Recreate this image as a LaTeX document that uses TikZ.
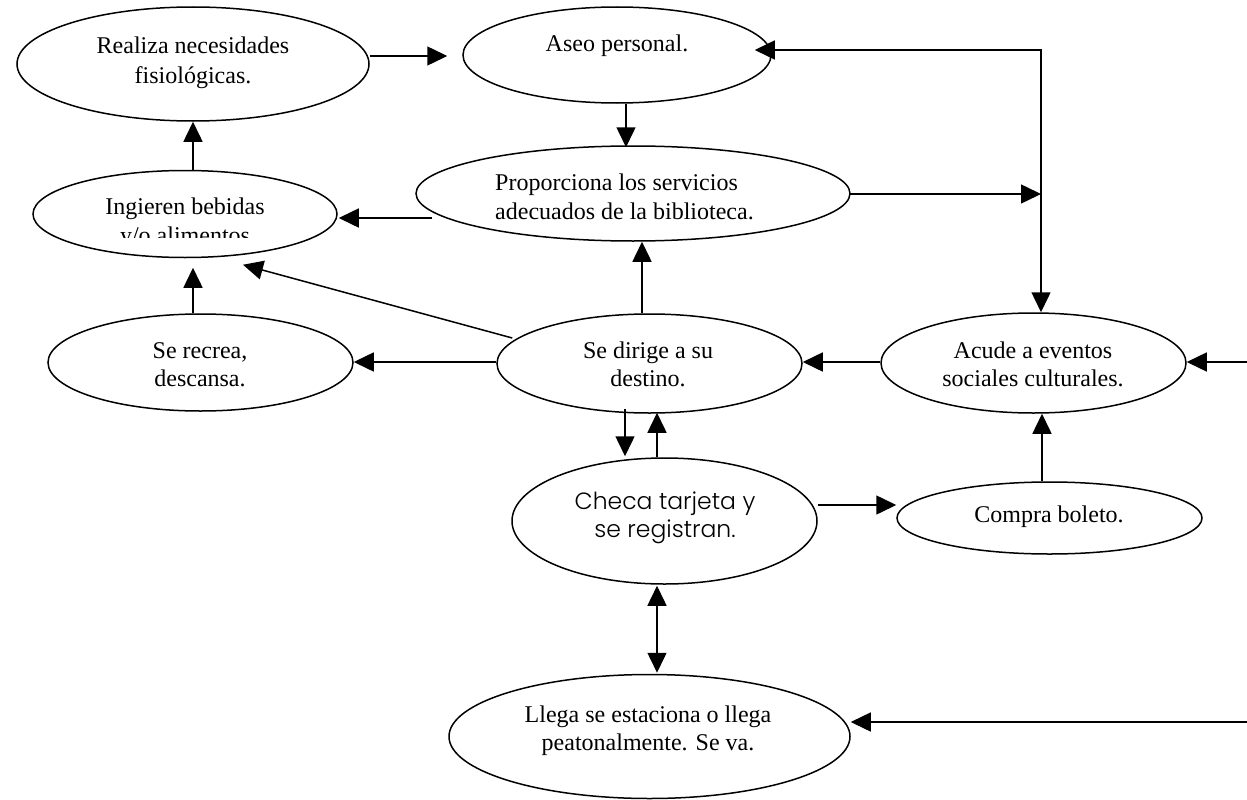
\documentclass[tikz,border=0pt]{standalone}
\usepackage{fontspec}
\setmainfont{Liberation Serif}
\newfontfamily\gothic{Poppins Light}
\usetikzlibrary{arrows.meta,shapes.geometric,calc}
\begin{document}
\begin{tikzpicture}[x=1pt,y=-1pt,
  ell/.style={draw, ellipse, line width=1.5pt, inner sep=0pt},
  txt/.style={anchor=base, inner sep=0pt, font=\fontsize{24}{29}\selectfont},
  ltxt/.style={anchor=base west, inner sep=0pt, font=\fontsize{24}{29}\selectfont},
  gtxt/.style={anchor=base, inner sep=0pt, font=\gothic\fontsize{23.5}{28}\selectfont},
  arr/.style={line width=1.5pt, -{Triangle[length=20pt,width=19pt]}},
  darr/.style={line width=1.5pt, {Triangle[length=20pt,width=19pt]}-{Triangle[length=20pt,width=19pt]}},
  ]
\useasboundingbox (0,0) rectangle (1247,800);

% ellipses
\node[ell, minimum width=352pt, minimum height=114pt] (realiza) at (193,64) {};
\node[ell, minimum width=308pt, minimum height=96pt] (aseo) at (617,55) {};
\node[ell, minimum width=434pt, minimum height=95pt] (prop) at (633,193.5) {};
\node[ell, minimum width=304pt, minimum height=87pt] (ingi) at (185,214) {};
\node[ell, minimum width=305pt, minimum height=97pt] (recrea) at (200.5,362.5) {};
\node[ell, minimum width=305pt, minimum height=99pt] (dirige) at (649.5,363.5) {};
\node[ell, minimum width=305pt, minimum height=100pt] (acude) at (1033.5,363) {};
\node[ell, minimum width=305pt, minimum height=126pt] (checa) at (664.5,521) {};
\node[ell, minimum width=305pt, minimum height=72pt] (compra) at (1049.5,518) {};
\node[ell, minimum width=401pt, minimum height=124pt] (llega) at (649.5,736.5) {};

% texts
\node[txt] at (193,54) {Realiza necesidades};
\node[txt] at (193,84) {fisiológicas.};
\node[txt] at (617,52) {Aseo personal.};
\node[ltxt] at (495,190) {Proporciona los servicios};
\node[ltxt] at (495,219) {adecuados de la biblioteca.};
\node[txt] at (185,214) {Ingieren bebidas};
\begin{scope}
  \clip (40,180) rectangle (330,237);
  \node[txt] at (185,243) {y/o alimentos};
\end{scope}
\node[txt] at (200,358) {Se recrea,};
\node[txt] at (200,386) {descansa.};
\node[txt] at (648,358) {Se dirige a su};
\node[txt] at (648,386) {destino.};
\node[txt] at (1033,358) {Acude a eventos};
\node[txt] at (1033,386) {sociales culturales.};
\node[gtxt] at (665,509) {Checa tarjeta y};
\node[gtxt] at (665,537) {se registran.};
\node[txt] at (1049,522) {Compra boleto.};
\node[txt] at (648,722) {Llega se estaciona o llega};
\node[txt] at (648,750) {peatonalmente. Se va.};

% free ends
\coordinate (c1) at (1041,50);
\coordinate (c2) at (1041,194);
\coordinate (r1) at (1247,362);
\coordinate (r2) at (1247,722);

% connectors
\draw[arr] ($(realiza.east)+(0,-8)$) -- ($(aseo.west)+(-15,1)$);
\draw[arr] ($(aseo.south)+(9,0)$) -- ($(prop.north)+(-7,2)$);
\draw[darr] ($(aseo.east)+(-17,-5)$) -- (c1) -- ($(acude.north)+(7.5,0)$);
\draw[arr] ($(prop.east)+(-1,0.5)$) -- (c2);
\draw[arr] ($(prop.west)+(17,24.5)$) -- ($(ingi.east)+(1,4)$);
\draw[arr] ($(ingi.north)+(8,0)$) -- (realiza.south);
\draw[arr] ($(recrea.north)+(-7.5,0)$) -- ($(ingi.south)+(8,9.5)$);
\draw[arr] ($(dirige.west)+(16,-25.5)$) -- ($(ingi.south)+(58,6.5)$);
\draw[arr] ($(dirige.west)+(0,-1.5)$) -- ($(recrea.east)+(0,-0.5)$);
\draw[arr] ($(dirige.north)+(-7.5,0)$) -- ($(prop.south)+(9,0)$);
\draw[arr] ($(acude.west)+(0,-1)$) -- ($(dirige.east)+(0,-1.5)$);
\draw[arr] (r1) -- ($(acude.east)+(0,-1)$);
\draw[arr] ($(compra.north)+(-7.5,0)$) -- ($(acude.south)+(8.5,0)$);
\draw[arr] ($(dirige.south)+(-24.5,-5)$) -- ($(checa.north)+(-39.5,-1)$);
\draw[arr] ($(checa.north)+(-7.5,0)$) -- ($(dirige.south)+(7.5,-1)$);
\draw[arr] ($(checa.east)+(0,-16)$) -- ($(compra.west)+(0,-13)$);
\draw[darr] ($(checa.south)+(-7.5,1)$) -- ($(llega.north)+(7.5,-1)$);
\draw[arr] (r2) -- ($(llega.east)+(0,-14.5)$);
\end{tikzpicture}
\end{document}
